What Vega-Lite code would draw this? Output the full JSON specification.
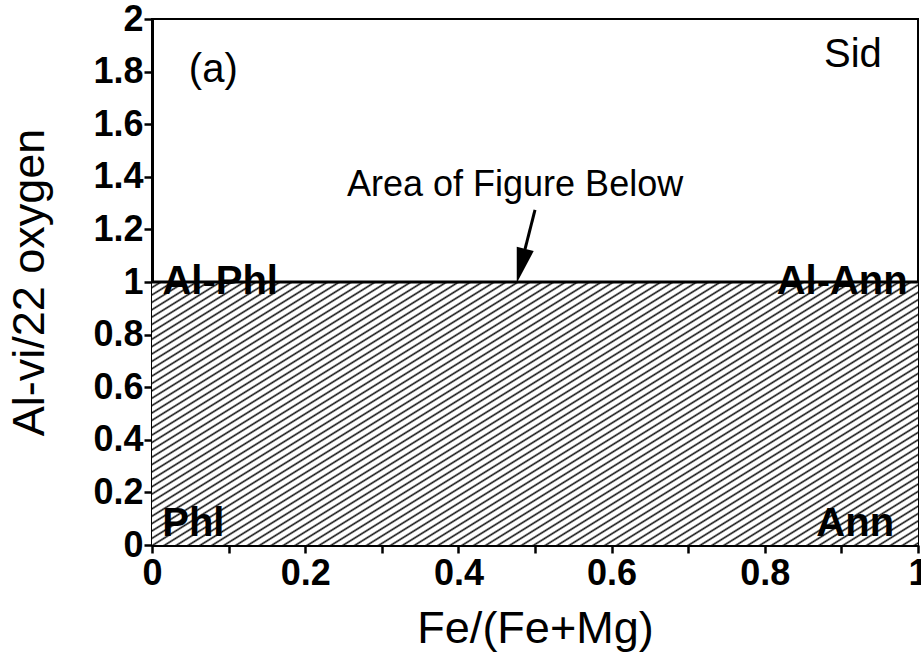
{
  "$schema": "https://vega.github.io/schema/vega-lite/v6.json",
  "width": 766,
  "height": 526,
  "autosize": {"type": "none"},
  "padding": {"left": 152, "top": 19, "right": 3, "bottom": 115},
  "background": "white",
  "config": {
    "font": "Liberation Sans",
    "view": {"stroke": "black", "strokeWidth": 2},
    "axis": {
      "grid": false,
      "domainColor": "black",
      "domainWidth": 3,
      "tickColor": "black",
      "tickWidth": 2.5,
      "tickSize": 8,
      "labelColor": "black",
      "labelFont": "Liberation Sans",
      "labelFontWeight": "bold",
      "labelFontSize": 36,
      "labelFlush": false,
      "labelOverlap": false,
      "labelBound": false,
      "titleColor": "black",
      "titleFont": "Liberation Sans",
      "titleFontWeight": "normal",
      "titleFontSize": 45
    }
  },
  "layer": [
    {
      "data": {"values": [{"x0": 0, "x1": 1, "y0": 0, "y1": 1}]},
      "mark": {
        "type": "rect",
        "fill": {
          "gradient": "linear",
          "x1": 0, "y1": 0, "x2": 1.189, "y2": 0.659,
          "stops": [
            {"offset":0,"color":"#fff"},{"offset":0.005,"color":"#fff"},{"offset":0.0075,"color":"#111"},
            {"offset":0.01,"color":"#fff"},{"offset":0.015,"color":"#fff"},{"offset":0.0175,"color":"#111"},
            {"offset":0.02,"color":"#fff"},{"offset":0.025,"color":"#fff"},{"offset":0.0275,"color":"#111"},
            {"offset":0.03,"color":"#fff"},{"offset":0.035,"color":"#fff"},{"offset":0.0375,"color":"#111"},
            {"offset":0.04,"color":"#fff"},{"offset":0.045,"color":"#fff"},{"offset":0.0475,"color":"#111"},
            {"offset":0.05,"color":"#fff"},{"offset":0.055,"color":"#fff"},{"offset":0.0575,"color":"#111"},
            {"offset":0.06,"color":"#fff"},{"offset":0.065,"color":"#fff"},{"offset":0.0675,"color":"#111"},
            {"offset":0.07,"color":"#fff"},{"offset":0.075,"color":"#fff"},{"offset":0.0775,"color":"#111"},
            {"offset":0.08,"color":"#fff"},{"offset":0.085,"color":"#fff"},{"offset":0.0875,"color":"#111"},
            {"offset":0.09,"color":"#fff"},{"offset":0.095,"color":"#fff"},{"offset":0.0975,"color":"#111"},
            {"offset":0.10,"color":"#fff"},{"offset":0.105,"color":"#fff"},{"offset":0.1075,"color":"#111"},
            {"offset":0.11,"color":"#fff"},{"offset":0.115,"color":"#fff"},{"offset":0.1175,"color":"#111"},
            {"offset":0.12,"color":"#fff"},{"offset":0.125,"color":"#fff"},{"offset":0.1275,"color":"#111"},
            {"offset":0.13,"color":"#fff"},{"offset":0.135,"color":"#fff"},{"offset":0.1375,"color":"#111"},
            {"offset":0.14,"color":"#fff"},{"offset":0.145,"color":"#fff"},{"offset":0.1475,"color":"#111"},
            {"offset":0.15,"color":"#fff"},{"offset":0.155,"color":"#fff"},{"offset":0.1575,"color":"#111"},
            {"offset":0.16,"color":"#fff"},{"offset":0.165,"color":"#fff"},{"offset":0.1675,"color":"#111"},
            {"offset":0.17,"color":"#fff"},{"offset":0.175,"color":"#fff"},{"offset":0.1775,"color":"#111"},
            {"offset":0.18,"color":"#fff"},{"offset":0.185,"color":"#fff"},{"offset":0.1875,"color":"#111"},
            {"offset":0.19,"color":"#fff"},{"offset":0.195,"color":"#fff"},{"offset":0.1975,"color":"#111"},
            {"offset":0.20,"color":"#fff"},{"offset":0.205,"color":"#fff"},{"offset":0.2075,"color":"#111"},
            {"offset":0.21,"color":"#fff"},{"offset":0.215,"color":"#fff"},{"offset":0.2175,"color":"#111"},
            {"offset":0.22,"color":"#fff"},{"offset":0.225,"color":"#fff"},{"offset":0.2275,"color":"#111"},
            {"offset":0.23,"color":"#fff"},{"offset":0.235,"color":"#fff"},{"offset":0.2375,"color":"#111"},
            {"offset":0.24,"color":"#fff"},{"offset":0.245,"color":"#fff"},{"offset":0.2475,"color":"#111"},
            {"offset":0.25,"color":"#fff"},{"offset":0.255,"color":"#fff"},{"offset":0.2575,"color":"#111"},
            {"offset":0.26,"color":"#fff"},{"offset":0.265,"color":"#fff"},{"offset":0.2675,"color":"#111"},
            {"offset":0.27,"color":"#fff"},{"offset":0.275,"color":"#fff"},{"offset":0.2775,"color":"#111"},
            {"offset":0.28,"color":"#fff"},{"offset":0.285,"color":"#fff"},{"offset":0.2875,"color":"#111"},
            {"offset":0.29,"color":"#fff"},{"offset":0.295,"color":"#fff"},{"offset":0.2975,"color":"#111"},
            {"offset":0.30,"color":"#fff"},{"offset":0.305,"color":"#fff"},{"offset":0.3075,"color":"#111"},
            {"offset":0.31,"color":"#fff"},{"offset":0.315,"color":"#fff"},{"offset":0.3175,"color":"#111"},
            {"offset":0.32,"color":"#fff"},{"offset":0.325,"color":"#fff"},{"offset":0.3275,"color":"#111"},
            {"offset":0.33,"color":"#fff"},{"offset":0.335,"color":"#fff"},{"offset":0.3375,"color":"#111"},
            {"offset":0.34,"color":"#fff"},{"offset":0.345,"color":"#fff"},{"offset":0.3475,"color":"#111"},
            {"offset":0.35,"color":"#fff"},{"offset":0.355,"color":"#fff"},{"offset":0.3575,"color":"#111"},
            {"offset":0.36,"color":"#fff"},{"offset":0.365,"color":"#fff"},{"offset":0.3675,"color":"#111"},
            {"offset":0.37,"color":"#fff"},{"offset":0.375,"color":"#fff"},{"offset":0.3775,"color":"#111"},
            {"offset":0.38,"color":"#fff"},{"offset":0.385,"color":"#fff"},{"offset":0.3875,"color":"#111"},
            {"offset":0.39,"color":"#fff"},{"offset":0.395,"color":"#fff"},{"offset":0.3975,"color":"#111"},
            {"offset":0.40,"color":"#fff"},{"offset":0.405,"color":"#fff"},{"offset":0.4075,"color":"#111"},
            {"offset":0.41,"color":"#fff"},{"offset":0.415,"color":"#fff"},{"offset":0.4175,"color":"#111"},
            {"offset":0.42,"color":"#fff"},{"offset":0.425,"color":"#fff"},{"offset":0.4275,"color":"#111"},
            {"offset":0.43,"color":"#fff"},{"offset":0.435,"color":"#fff"},{"offset":0.4375,"color":"#111"},
            {"offset":0.44,"color":"#fff"},{"offset":0.445,"color":"#fff"},{"offset":0.4475,"color":"#111"},
            {"offset":0.45,"color":"#fff"},{"offset":0.455,"color":"#fff"},{"offset":0.4575,"color":"#111"},
            {"offset":0.46,"color":"#fff"},{"offset":0.465,"color":"#fff"},{"offset":0.4675,"color":"#111"},
            {"offset":0.47,"color":"#fff"},{"offset":0.475,"color":"#fff"},{"offset":0.4775,"color":"#111"},
            {"offset":0.48,"color":"#fff"},{"offset":0.485,"color":"#fff"},{"offset":0.4875,"color":"#111"},
            {"offset":0.49,"color":"#fff"},{"offset":0.495,"color":"#fff"},{"offset":0.4975,"color":"#111"},
            {"offset":0.50,"color":"#fff"},{"offset":0.505,"color":"#fff"},{"offset":0.5075,"color":"#111"},
            {"offset":0.51,"color":"#fff"},{"offset":0.515,"color":"#fff"},{"offset":0.5175,"color":"#111"},
            {"offset":0.52,"color":"#fff"},{"offset":0.525,"color":"#fff"},{"offset":0.5275,"color":"#111"},
            {"offset":0.53,"color":"#fff"},{"offset":0.535,"color":"#fff"},{"offset":0.5375,"color":"#111"},
            {"offset":0.54,"color":"#fff"},{"offset":0.545,"color":"#fff"},{"offset":0.5475,"color":"#111"},
            {"offset":0.55,"color":"#fff"},{"offset":0.555,"color":"#fff"},{"offset":0.5575,"color":"#111"},
            {"offset":0.56,"color":"#fff"},{"offset":0.565,"color":"#fff"},{"offset":0.5675,"color":"#111"},
            {"offset":0.57,"color":"#fff"},{"offset":0.575,"color":"#fff"},{"offset":0.5775,"color":"#111"},
            {"offset":0.58,"color":"#fff"},{"offset":0.585,"color":"#fff"},{"offset":0.5875,"color":"#111"},
            {"offset":0.59,"color":"#fff"},{"offset":0.595,"color":"#fff"},{"offset":0.5975,"color":"#111"},
            {"offset":0.60,"color":"#fff"},{"offset":0.605,"color":"#fff"},{"offset":0.6075,"color":"#111"},
            {"offset":0.61,"color":"#fff"},{"offset":0.615,"color":"#fff"},{"offset":0.6175,"color":"#111"},
            {"offset":0.62,"color":"#fff"},{"offset":0.625,"color":"#fff"},{"offset":0.6275,"color":"#111"},
            {"offset":0.63,"color":"#fff"},{"offset":0.635,"color":"#fff"},{"offset":0.6375,"color":"#111"},
            {"offset":0.64,"color":"#fff"},{"offset":0.645,"color":"#fff"},{"offset":0.6475,"color":"#111"},
            {"offset":0.65,"color":"#fff"},{"offset":0.655,"color":"#fff"},{"offset":0.6575,"color":"#111"},
            {"offset":0.66,"color":"#fff"},{"offset":0.665,"color":"#fff"},{"offset":0.6675,"color":"#111"},
            {"offset":0.67,"color":"#fff"},{"offset":0.675,"color":"#fff"},{"offset":0.6775,"color":"#111"},
            {"offset":0.68,"color":"#fff"},{"offset":0.685,"color":"#fff"},{"offset":0.6875,"color":"#111"},
            {"offset":0.69,"color":"#fff"},{"offset":0.695,"color":"#fff"},{"offset":0.6975,"color":"#111"},
            {"offset":0.70,"color":"#fff"},{"offset":0.705,"color":"#fff"},{"offset":0.7075,"color":"#111"},
            {"offset":0.71,"color":"#fff"},{"offset":0.715,"color":"#fff"},{"offset":0.7175,"color":"#111"},
            {"offset":0.72,"color":"#fff"},{"offset":0.725,"color":"#fff"},{"offset":0.7275,"color":"#111"},
            {"offset":0.73,"color":"#fff"},{"offset":0.735,"color":"#fff"},{"offset":0.7375,"color":"#111"},
            {"offset":0.74,"color":"#fff"},{"offset":0.745,"color":"#fff"},{"offset":0.7475,"color":"#111"},
            {"offset":0.75,"color":"#fff"},{"offset":0.755,"color":"#fff"},{"offset":0.7575,"color":"#111"},
            {"offset":0.76,"color":"#fff"},{"offset":0.765,"color":"#fff"},{"offset":0.7675,"color":"#111"},
            {"offset":0.77,"color":"#fff"},{"offset":0.775,"color":"#fff"},{"offset":0.7775,"color":"#111"},
            {"offset":0.78,"color":"#fff"},{"offset":0.785,"color":"#fff"},{"offset":0.7875,"color":"#111"},
            {"offset":0.79,"color":"#fff"},{"offset":0.795,"color":"#fff"},{"offset":0.7975,"color":"#111"},
            {"offset":0.80,"color":"#fff"},{"offset":0.805,"color":"#fff"},{"offset":0.8075,"color":"#111"},
            {"offset":0.81,"color":"#fff"},{"offset":0.815,"color":"#fff"},{"offset":0.8175,"color":"#111"},
            {"offset":0.82,"color":"#fff"},{"offset":0.825,"color":"#fff"},{"offset":0.8275,"color":"#111"},
            {"offset":0.83,"color":"#fff"},{"offset":0.835,"color":"#fff"},{"offset":0.8375,"color":"#111"},
            {"offset":0.84,"color":"#fff"},{"offset":0.845,"color":"#fff"},{"offset":0.8475,"color":"#111"},
            {"offset":0.85,"color":"#fff"},{"offset":0.855,"color":"#fff"},{"offset":0.8575,"color":"#111"},
            {"offset":0.86,"color":"#fff"},{"offset":0.865,"color":"#fff"},{"offset":0.8675,"color":"#111"},
            {"offset":0.87,"color":"#fff"},{"offset":0.875,"color":"#fff"},{"offset":0.8775,"color":"#111"},
            {"offset":0.88,"color":"#fff"},{"offset":0.885,"color":"#fff"},{"offset":0.8875,"color":"#111"},
            {"offset":0.89,"color":"#fff"},{"offset":0.895,"color":"#fff"},{"offset":0.8975,"color":"#111"},
            {"offset":0.90,"color":"#fff"},{"offset":0.905,"color":"#fff"},{"offset":0.9075,"color":"#111"},
            {"offset":0.91,"color":"#fff"},{"offset":0.915,"color":"#fff"},{"offset":0.9175,"color":"#111"},
            {"offset":0.92,"color":"#fff"},{"offset":0.925,"color":"#fff"},{"offset":0.9275,"color":"#111"},
            {"offset":0.93,"color":"#fff"},{"offset":0.935,"color":"#fff"},{"offset":0.9375,"color":"#111"},
            {"offset":0.94,"color":"#fff"},{"offset":0.945,"color":"#fff"},{"offset":0.9475,"color":"#111"},
            {"offset":0.95,"color":"#fff"},{"offset":0.955,"color":"#fff"},{"offset":0.9575,"color":"#111"},
            {"offset":0.96,"color":"#fff"},{"offset":0.965,"color":"#fff"},{"offset":0.9675,"color":"#111"},
            {"offset":0.97,"color":"#fff"},{"offset":0.975,"color":"#fff"},{"offset":0.9775,"color":"#111"},
            {"offset":0.98,"color":"#fff"},{"offset":0.985,"color":"#fff"},{"offset":0.9875,"color":"#111"},
            {"offset":0.99,"color":"#fff"},{"offset":0.995,"color":"#fff"},{"offset":0.9975,"color":"#111"},
            {"offset":1,"color":"#fff"}
          ]
        }
      },
      "encoding": {
        "x": {
          "field": "x0", "type": "quantitative",
          "scale": {"domain": [0, 1], "nice": false, "zero": false},
          "axis": {
            "title": "Fe/(Fe+Mg)",
            "values": [0, 0.1, 0.2, 0.3, 0.4, 0.5, 0.6, 0.7, 0.8, 0.9, 1],
            "labelExpr": "round(datum.value*10)%2==0 ? format(datum.value, '~g') : ''",
            "labelPadding": 3,
            "titlePadding": 15
          }
        },
        "x2": {"field": "x1"},
        "y": {
          "field": "y0", "type": "quantitative",
          "scale": {"domain": [0, 2], "nice": false, "zero": false},
          "axis": {
            "title": "Al-vi/22 oxygen",
            "values": [0, 0.1, 0.2, 0.3, 0.4, 0.5, 0.6, 0.7, 0.8, 0.9, 1, 1.1, 1.2, 1.3, 1.4, 1.5, 1.6, 1.7, 1.8, 1.9, 2],
            "labelExpr": "round(datum.value*10)%2==0 ? format(datum.value, '~g') : ''",
            "labelPadding": 1,
            "titlePadding": 40
          }
        },
        "y2": {"field": "y1"}
      }
    },
    {
      "data": {"values": [{"y": 1}]},
      "mark": {"type": "rule", "color": "black", "strokeWidth": 3},
      "encoding": {"y": {"field": "y", "type": "quantitative"}}
    },
    {
      "data": {"values": [{"x": 0.5, "y": 1.274, "x2": 0.487, "y2": 1.125}]},
      "mark": {"type": "rule", "color": "black", "strokeWidth": 3},
      "encoding": {
        "x": {"field": "x", "type": "quantitative"},
        "y": {"field": "y", "type": "quantitative"},
        "x2": {"field": "x2"},
        "y2": {"field": "y2"}
      }
    },
    {
      "data": {"values": [{"x": 0.4817, "y": 1.061}]},
      "mark": {"type": "point", "shape": "M-0.5,-1L0.5,-1L0,1Z", "filled": true, "color": "black", "opacity": 1, "size": 1225, "angle": 14},
      "encoding": {
        "x": {"field": "x", "type": "quantitative"},
        "y": {"field": "y", "type": "quantitative"}
      }
    },
    {
      "data": {"values": [
        {"x": 0.089, "y": 1.0, "label": "Al-Phl"},
        {"x": 0.901, "y": 1.0, "label": "Al-Ann"},
        {"x": 0.054, "y": 0.08, "label": "Phl"},
        {"x": 0.918, "y": 0.08, "label": "Ann"}
      ]},
      "mark": {"type": "text", "font": "Liberation Sans", "fontWeight": "bold", "fontSize": 40, "color": "black", "align": "center", "baseline": "middle"},
      "encoding": {
        "x": {"field": "x", "type": "quantitative"},
        "y": {"field": "y", "type": "quantitative"},
        "text": {"field": "label"}
      }
    },
    {
      "data": {"values": [
        {"x": 0.08, "y": 1.806, "label": "(a)"},
        {"x": 0.915, "y": 1.863, "label": "Sid"}
      ]},
      "mark": {"type": "text", "font": "Liberation Sans", "fontSize": 40, "color": "black", "align": "center", "baseline": "middle"},
      "encoding": {
        "x": {"field": "x", "type": "quantitative"},
        "y": {"field": "y", "type": "quantitative"},
        "text": {"field": "label"}
      }
    },
    {
      "data": {"values": [{"x": 0.474, "y": 1.369, "label": "Area of Figure Below"}]},
      "mark": {"type": "text", "font": "Liberation Sans", "fontSize": 36, "color": "black", "align": "center", "baseline": "middle"},
      "encoding": {
        "x": {"field": "x", "type": "quantitative"},
        "y": {"field": "y", "type": "quantitative"},
        "text": {"field": "label"}
      }
    }
  ]
}
